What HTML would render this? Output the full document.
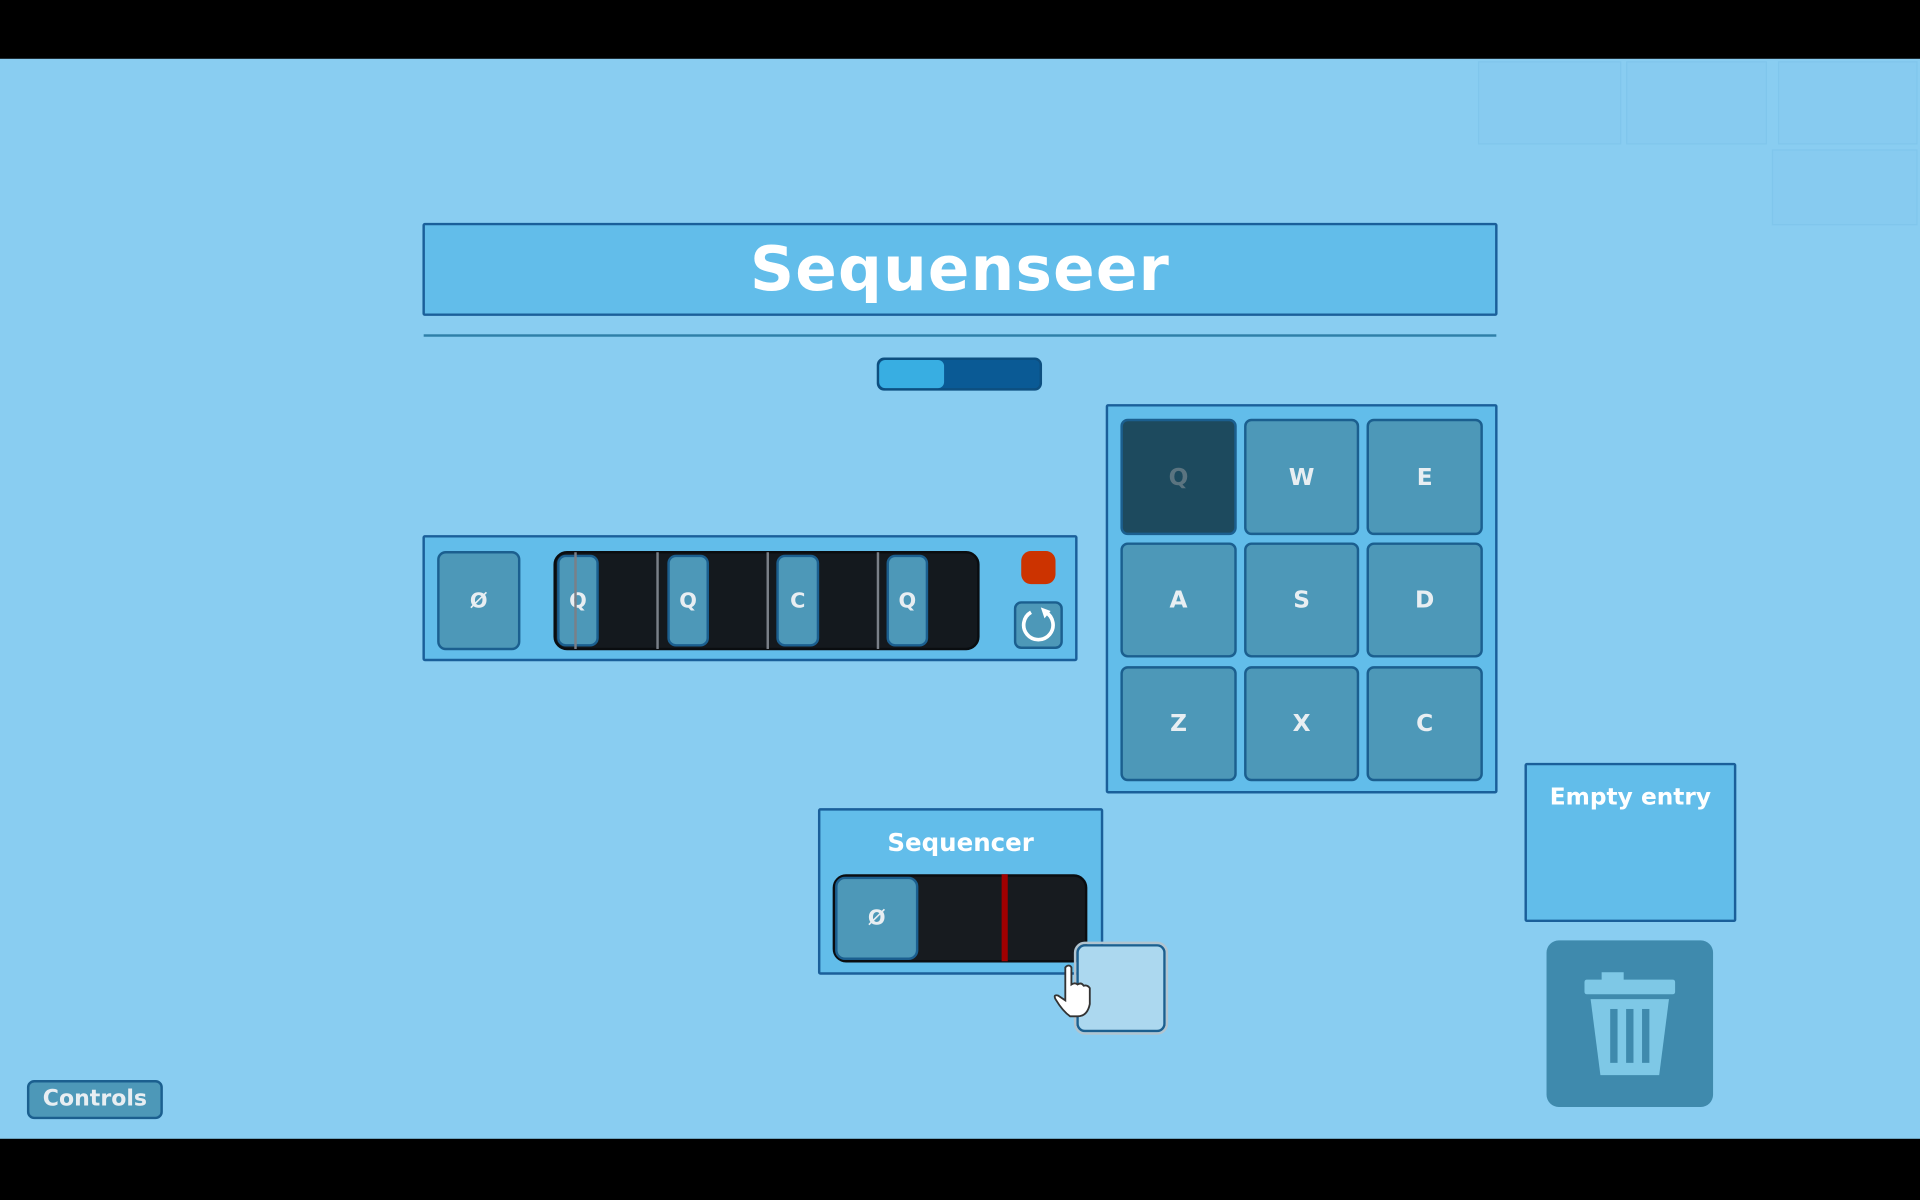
<!DOCTYPE html>
<html><head><meta charset="utf-8"><style>
html,body{margin:0;padding:0;width:1920px;height:1200px;overflow:hidden;background:#000}
#s{position:absolute;left:0;top:0;width:1568px;height:980px;transform:scale(1.22449);transform-origin:0 0;background:#000;font-family:"DejaVu Sans","Liberation Sans",sans-serif}
.a{position:absolute;box-sizing:border-box}
.bg{left:0;top:48px;width:1568px;height:882px;background:#89cdf1}
.panel{background:#62bdea;border:2px solid #1a5f9a;border-radius:2px}
.key{background:#4d98b8;border:2px solid #1b5f8f;border-radius:6px;color:#e8eef2;font-size:19px;font-weight:bold;display:flex;align-items:center;justify-content:center}
.slot{background:#4d98b8;border:2px solid #1b5f8f;border-radius:7px;color:#e8eef2;font-size:17px;font-weight:bold;display:flex;align-items:center;justify-content:center}
.tile{background:#87cbf0;border:1px solid #80c6ec}
.div{width:2px;background:#7a8088}
</style></head><body><div id="s">
<div class="a bg"></div>
<div class="a tile" style="left:1207px;top:50px;width:117px;height:68px"></div>
<div class="a tile" style="left:1328px;top:50px;width:115px;height:68px"></div>
<div class="a tile" style="left:1452px;top:50px;width:114px;height:68px"></div>
<div class="a tile" style="left:1447px;top:122px;width:119px;height:62px"></div>

<div class="a panel" style="left:345px;top:182px;width:878px;height:76px;display:flex;align-items:center;justify-content:center;color:#fff;font-size:50px;font-weight:bold;letter-spacing:1px">Sequenseer</div>
<div class="a" style="left:346px;top:273px;width:876px;height:2px;background:#2f7fa8"></div>
<div class="a" style="left:716px;top:292px;width:135px;height:27px;background:#0a5a95;border:2px solid #0d4f80;border-radius:6px"></div>
<div class="a" style="left:718px;top:294px;width:53px;height:23px;background:#38aee2;border-radius:5px"></div>

<div class="a panel" style="left:903px;top:330px;width:320px;height:318px"></div>
<div class="a key" style="left:915px;top:342px;width:95px;height:95px;background:#1d4a5e;color:#5b7480">Q</div>
<div class="a key" style="left:1016px;top:342px;width:94px;height:95px">W</div>
<div class="a key" style="left:1116px;top:342px;width:95px;height:95px">E</div>
<div class="a key" style="left:915px;top:443px;width:95px;height:94px">A</div>
<div class="a key" style="left:1016px;top:443px;width:94px;height:94px">S</div>
<div class="a key" style="left:1116px;top:443px;width:95px;height:94px">D</div>
<div class="a key" style="left:915px;top:544px;width:95px;height:94px">Z</div>
<div class="a key" style="left:1016px;top:544px;width:94px;height:94px">X</div>
<div class="a key" style="left:1116px;top:544px;width:95px;height:94px">C</div>

<div class="a panel" style="left:345px;top:437px;width:535px;height:103px"></div>
<div class="a slot" style="left:357px;top:450px;width:68px;height:81px">Ø</div>
<div class="a" style="left:452px;top:450px;width:348px;height:81px;background:#14191e;border:2px solid #0a0d10;border-radius:11px"></div>
<div class="a slot" style="left:455px;top:453px;width:34px;height:75px">Q</div>
<div class="a slot" style="left:545px;top:453px;width:34px;height:75px">Q</div>
<div class="a slot" style="left:634px;top:453px;width:35px;height:75px">C</div>
<div class="a slot" style="left:724px;top:453px;width:34px;height:75px">Q</div>
<div class="a div" style="left:469px;top:451px;height:79px"></div>
<div class="a div" style="left:536px;top:451px;height:79px"></div>
<div class="a div" style="left:626px;top:451px;height:79px"></div>
<div class="a div" style="left:716px;top:451px;height:79px"></div>
<div class="a" style="left:834px;top:450px;width:28px;height:27px;background:#cc3300;border-radius:8px"></div>
<div class="a" style="left:828px;top:491px;width:40px;height:39px;background:#4d98b8;border:2px solid #1b5f8f;border-radius:6px"></div>
<svg class="a" style="left:828px;top:491px" width="40" height="39"><path d="M26 9 A12 12 0 1 1 14 9" fill="none" stroke="#fff" stroke-width="3"/><path d="M22 5 L30 8 L25 14 Z" fill="#fff"/></svg>

<div class="a panel" style="left:668px;top:660px;width:233px;height:136px;color:#fff;font-size:20px;font-weight:bold;text-align:center;padding-top:14px">Sequencer</div>
<div class="a" style="left:680px;top:714px;width:208px;height:72px;background:#171b1f;border:2px solid #0a0d10;border-radius:11px"></div>
<div class="a slot" style="left:682px;top:716px;width:68px;height:68px;border-radius:8px">Ø</div>
<div class="a" style="left:818px;top:714px;width:5px;height:71px;background:#a00000"></div>
<div class="a" style="left:879px;top:771px;width:73px;height:72px;background:#acd8ef;border:2px solid #1b5f8f;outline:2px solid #b0c4d0;border-radius:7px"></div>
<svg class="a" style="left:856px;top:786px" width="40" height="50"><path d="M14 4 Q17 1 19 4 L19 18 Q22 16 24 18 Q27 16 29 19 Q32 18 34 21 L34 34 Q32 44 24 44 L18 44 Q12 40 6 30 Q4 26 8 27 L14 31 Z" fill="#fff" stroke="#333" stroke-width="1.5"/></svg>

<div class="a panel" style="left:1245px;top:623px;width:173px;height:130px;color:#fff;font-size:19px;font-weight:bold;text-align:center;padding-top:15px">Empty entry</div>
<div class="a" style="left:1263px;top:768px;width:136px;height:136px;background:#3f8aad;border-radius:10px"></div>
<svg class="a" style="left:1263px;top:768px" width="136" height="136"><rect x="45" y="26" width="18" height="8" fill="#7ec8e6"/><rect x="31" y="32" width="74" height="12" rx="2" fill="#7ec8e6"/><path d="M36 48 L100 48 L92 110 L44 110 Z" fill="#7ec8e6"/><rect x="52" y="56" width="6" height="44" fill="#3f8aad"/><rect x="65" y="56" width="6" height="44" fill="#3f8aad"/><rect x="78" y="56" width="6" height="44" fill="#3f8aad"/></svg>

<div class="a" style="left:22px;top:882px;width:111px;height:32px;background:#4d98b8;border:2px solid #1b5f8f;border-radius:6px;color:#e8eef2;font-size:18px;font-weight:bold;text-align:center;line-height:28px">Controls</div>
</div></body></html>
